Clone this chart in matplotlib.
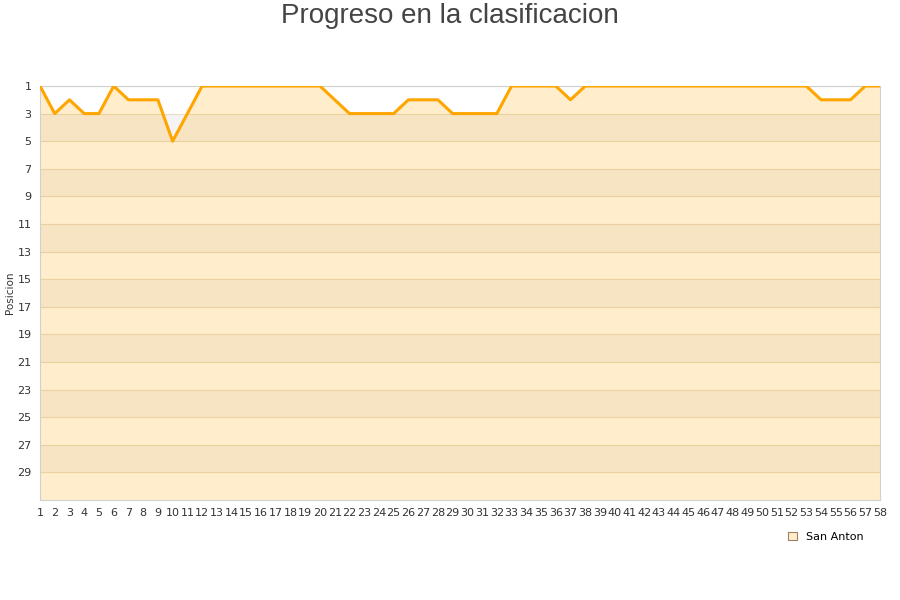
import numpy as np
import matplotlib.pyplot as plt
from matplotlib.patches import Patch

jornadas = list(range(1, 59))
posicion = [1, 3, 2, 3, 3, 1, 2, 2, 2, 5,
            3, 1, 1, 1, 1, 1, 1, 1, 1, 1,
            2, 3, 3, 3, 3, 2, 2, 2, 3, 3,
            3, 3, 1, 1, 1, 1, 2, 1, 1, 1,
            1, 1, 1, 1, 1, 1, 1, 1, 1, 1,
            1, 1, 1, 2, 2, 2, 1, 1]
equipo = 'San Anton'
yticks = list(range(1, 30, 2))

fig = plt.figure(figsize=(9, 6), dpi=100)
ax = fig.add_axes([40/900, 1-500/600, 840/900, 414/600])

# alternating background bands
for k, lo in enumerate(range(1, 31, 2)):
    ax.axhspan(lo, lo+2, color='white' if k % 2 == 0 else '#f4f4f4', lw=0, zorder=0)
for t in yticks:
    ax.axhline(t, color='#e8dcc8', lw=0.8, zorder=1)

x = np.array(jornadas)
y = np.array(posicion)
ax.fill_between(x, y, 31, color='#ffa500', alpha=0.2, lw=0, zorder=2)
ax.plot(x, y, color='#ffa500', lw=2.2, zorder=3)

ax.set_xlim(1, 58)
ax.set_ylim(31, 1)
ax.set_yticks(yticks)
ax.set_xticks(jornadas)
ax.tick_params(length=0, labelsize=8, colors='#333333', pad=6)
for s in ax.spines.values():
    s.set_color('#d0d0d0')
ax.set_ylabel('Posicion', fontsize=7.5, color='#333333', labelpad=2)

fig.text(0.5, 1-16/600, 'Progreso en la clasificacion', fontsize=20,
         family='Liberation Sans', color='#444444', ha='center', va='center')

fig.legend(handles=[Patch(facecolor='#ffedcc', edgecolor='#a08060', lw=0.8)],
           labels=[equipo], loc='center', bbox_to_anchor=(0.918, 0.105),
           frameon=False, fontsize=8, handlelength=0.8, handleheight=0.8)

plt.savefig('out.png')
